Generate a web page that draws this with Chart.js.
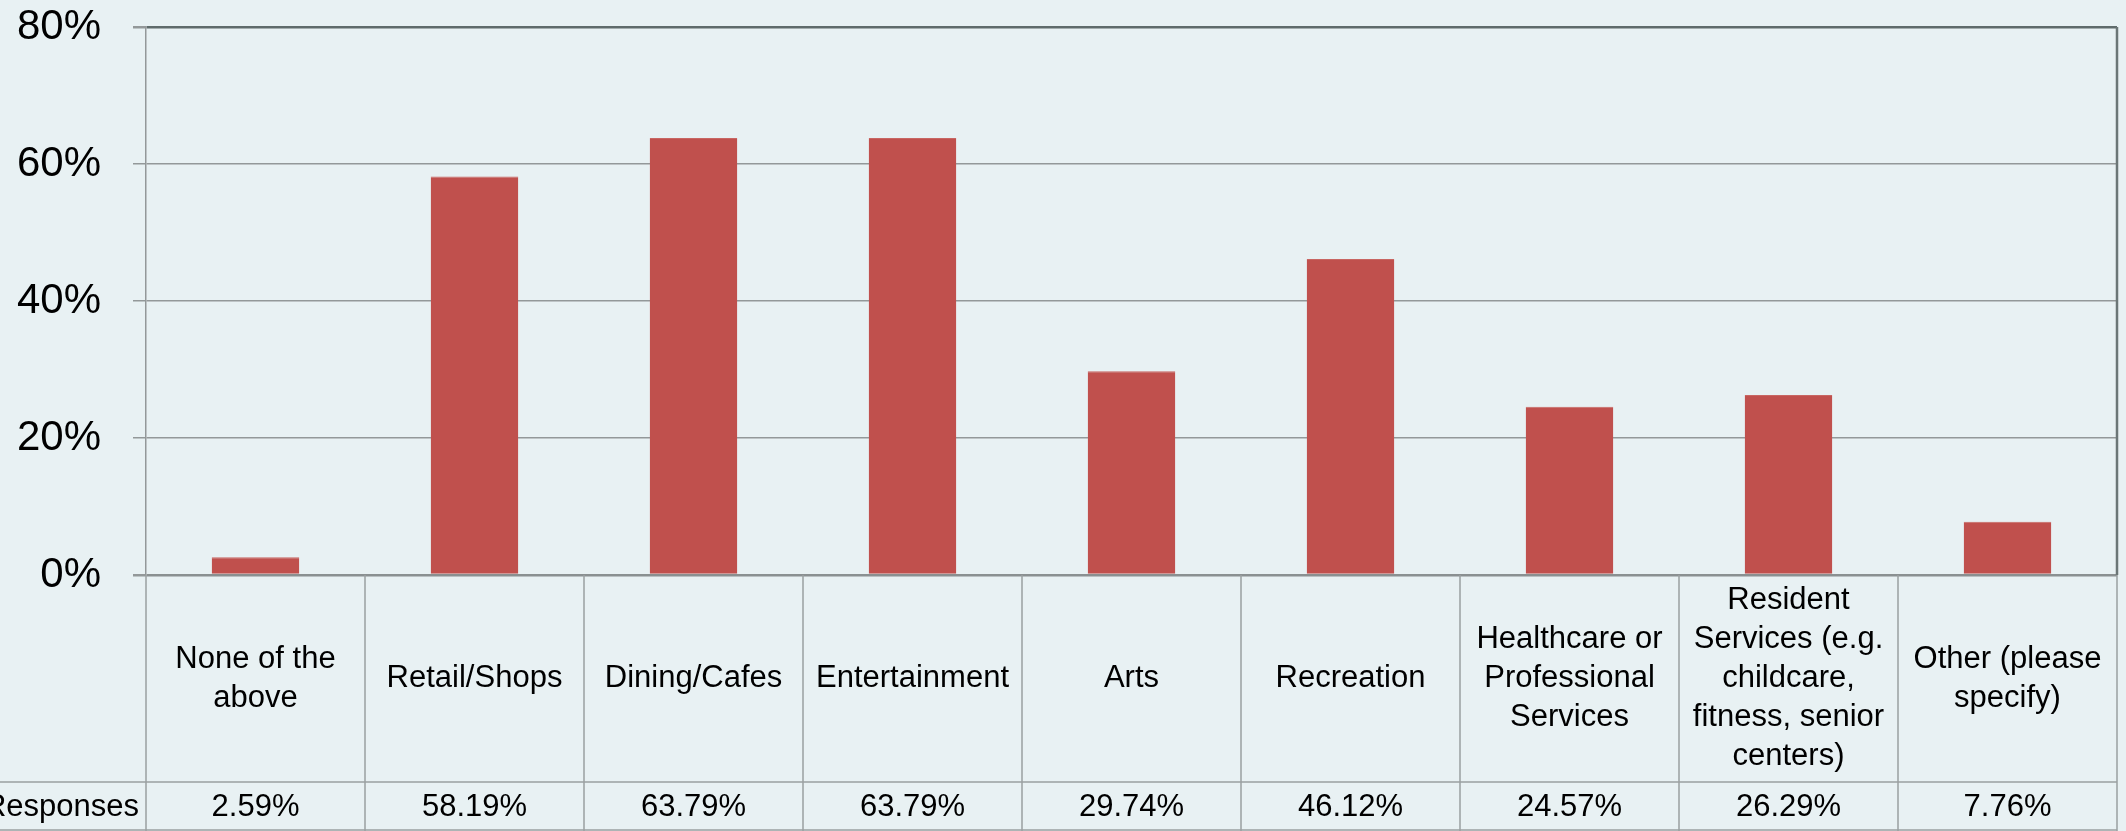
<!DOCTYPE html>
<html lang="en">
<head>
    <meta charset="UTF-8">
    <title>Responses by category</title>
    <script src="https://cdn.jsdelivr.net/npm/chart.js@4.4.0/dist/chart.umd.min.js"></script>
    <style>
        body {
            margin: 0;
            background: #e8f1f3;
            overflow: hidden;
        }
        .wrap {
            width: 2126px;
            height: 831px;
            position: relative;
        }
    </style>
</head>
<body>
    <div class="wrap">
        <canvas id="chart"></canvas>
    </div>
    <script>
        // data
        const categories = [
            ['None of the', 'above'],
            ['Retail/Shops'],
            ['Dining/Cafes'],
            ['Entertainment'],
            ['Arts'],
            ['Recreation'],
            ['Healthcare or', 'Professional', 'Services'],
            ['Resident', 'Services (e.g.', 'childcare,', 'fitness, senior', 'centers)'],
            ['Other (please', 'specify)']
        ];
        const responses = [2.59, 58.19, 63.79, 63.79, 29.74, 46.12, 24.57, 26.29, 7.76];
        const seriesName = 'Responses';
        const yTicks = [0, 20, 40, 60, 80];

        const FONT = '"Liberation Sans", Arial, sans-serif';
        const TABLE_H = 256;   // category row + value row under the plot
        const VALUE_ROW_H = 49;

        // draws the data table under the plot, positioned by the x scale
        const tablePlugin = {
            id: 'dataTable',
            afterDraw(chart) {
                const ctx = chart.ctx;
                const area = chart.chartArea;
                const xs = chart.scales.x;
                const top = area.bottom;
                const rowLine = chart.height - VALUE_ROW_H;
                const bottom = chart.height - 1;

                // column edges from the scale
                const edges = [area.left];
                for (let i = 0; i < categories.length - 1; i++) {
                    edges.push((xs.getPixelForValue(i) + xs.getPixelForValue(i + 1)) / 2);
                }
                edges.push(area.right);

                ctx.save();
                ctx.strokeStyle = '#9a9fa0';
                ctx.lineWidth = 1.5;
                edges.forEach(x => {
                    ctx.beginPath();
                    ctx.moveTo(x, top);
                    ctx.lineTo(x, chart.height);
                    ctx.stroke();
                });
                [rowLine, bottom].forEach(y => {
                    ctx.beginPath();
                    ctx.moveTo(0, y);
                    ctx.lineTo(area.right, y);
                    ctx.stroke();
                });

                // right border of the plot
                ctx.strokeStyle = '#6b7676';
                ctx.lineWidth = 2.5;
                ctx.beginPath();
                ctx.moveTo(area.right, area.top);
                ctx.lineTo(area.right, area.bottom);
                ctx.stroke();

                ctx.fillStyle = '#000';
                ctx.textBaseline = 'middle';
                ctx.textAlign = 'center';
                ctx.font = '31px ' + FONT;
                const lineH = 39;
                const catMid = (top + rowLine) / 2;
                categories.forEach((lines, i) => {
                    const cx = xs.getPixelForValue(i);
                    const y0 = catMid - (lines.length - 1) * lineH / 2;
                    lines.forEach((t, j) => ctx.fillText(t, cx, y0 + j * lineH));
                    ctx.fillText(responses[i].toFixed(2) + '%', cx, (rowLine + bottom) / 2 + 1);
                });

                ctx.textAlign = 'right';
                ctx.fillText(seriesName, area.left - 7, (rowLine + bottom) / 2 + 1);
                ctx.restore();
            }
        };

        new Chart(document.getElementById('chart'), {
            type: 'bar',
            data: {
                labels: categories.map(c => c.join(' ')),
                datasets: [{
                    label: seriesName,
                    data: responses,
                    backgroundColor: '#c0504d',
                    borderColor: '#c86662',
                    borderWidth: { top: 1, left: 0, right: 0, bottom: 0 },
                    barPercentage: 0.8,
                    categoryPercentage: 0.5
                }]
            },
            options: {
                responsive: true,
                maintainAspectRatio: false,
                animation: false,
                layout: { padding: { top: 27, right: 9, bottom: TABLE_H, left: 0 } },
                plugins: {
                    legend: { display: false },
                    tooltip: { enabled: false }
                },
                scales: {
                    x: { display: false },
                    y: {
                        min: yTicks[0],
                        max: yTicks[yTicks.length - 1],
                        afterBuildTicks: s => { s.ticks = yTicks.map(v => ({ value: v })); },
                        afterFit: s => {
                            s.width = 146;
                            s.paddingTop = 0;
                            s.paddingBottom = 0;
                        },
                        ticks: {
                            color: '#000',
                            padding: 32,
                            font: { family: FONT, size: 42 },
                            callback: v => v + '%'
                        },
                        grid: {
                            color: c => c.tick && c.tick.value === 80 ? '#5f6b6b' : (c.tick && c.tick.value === 0 ? '#8a9091' : '#939899'),
                            lineWidth: c => c.tick && c.tick.value === 0 ? 2.5 : (c.tick && c.tick.value === 80 ? 2.5 : 1.5),
                            tickLength: 13,
                            tickColor: '#939899'
                        },
                        border: { display: true, color: '#939899', width: 1.5 }
                    }
                }
            },
            plugins: [tablePlugin]
        });
    </script>
</body>
</html>
